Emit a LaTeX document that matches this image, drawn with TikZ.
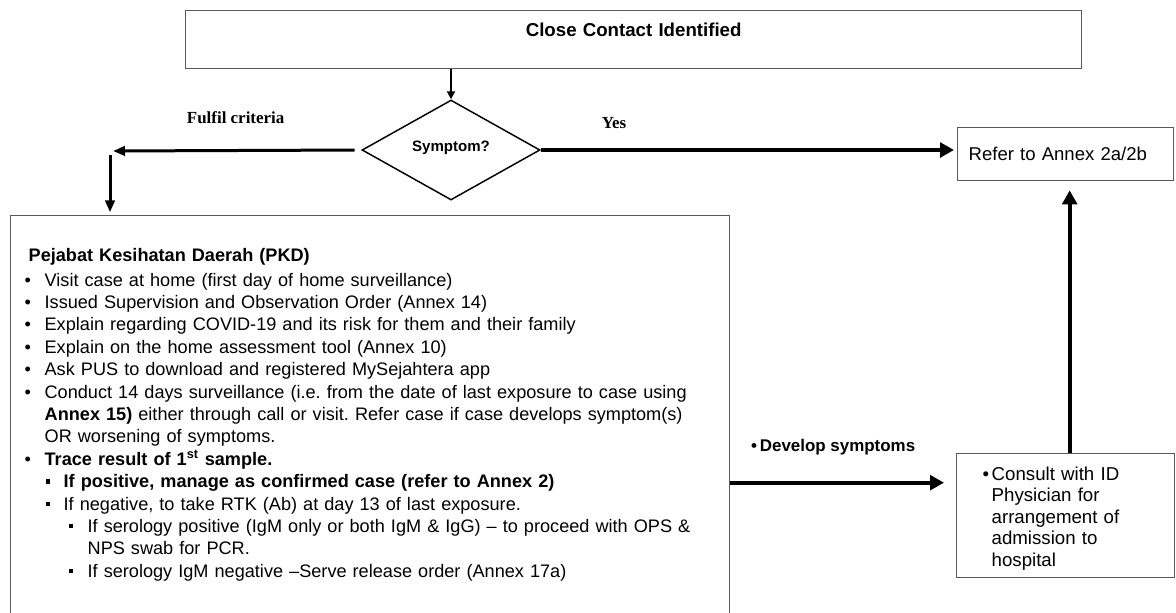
\documentclass[tikz,border=0pt]{standalone}
\usepackage{fontspec}
\setmainfont{Liberation Sans}
\newfontfamily\timesfont{Liberation Serif}
\usetikzlibrary{arrows.meta,shapes.geometric,positioning}

% list helpers for the PKD box
\newcommand{\sqbul}{\raisebox{3pt}{\rule{3.4pt}{3.4pt}}}
\newcommand{\pkdA}[1]{\par\hangindent=15pt\hangafter=1\noindent\makebox[15pt][l]{\textbullet}#1}
\newcommand{\pkdB}[1]{\par\hangindent=29.25pt\hangafter=1\noindent\hspace*{15.75pt}\makebox[13.5pt][l]{\sqbul}#1}
\newcommand{\pkdC}[1]{\par\hangindent=47.25pt\hangafter=1\noindent\hspace*{33pt}\makebox[14.25pt][l]{\sqbul}#1}

\begin{document}
\frenchspacing
\begin{tikzpicture}[
    x=0.75pt, y=-0.75pt,
    block/.style={
		rectangle,
		draw=black!65,
		line width=1pt,
		anchor=north west,
		inner sep=0pt,
		align=left
	},
	decision/.style={
		diamond,
		draw=black,
		line width=1.1pt,
		aspect=1.78,
		inner sep=0pt,
		minimum width=133.5pt,
		minimum height=75pt,
		font=\bfseries\fontsize{11.3}{13}\selectfont
	},
	tag/.style={
	  font=\timesfont\bfseries\fontsize{12.7}{14}\selectfont
    },
	thinarrow/.style={line width=1.5pt, -{Triangle[length=6pt,width=6pt]}},
	midarrow/.style={line width=2.25pt, -{Triangle[length=9pt,width=7pt]}},
	bigarrow/.style={line width=3pt, -{Triangle[length=10.5pt,width=11pt]}}
  ]

\useasboundingbox (0,0) rectangle (1176,612);

 \node [block, align=center, text width=672pt, text height=19pt, text depth=24.5pt,
        font=\bfseries\fontsize{14}{16}\selectfont] (contact) at (185,10) {Close Contact Identified};

 \node [decision] (symptom) at (451,150) {\raisebox{5pt}{Symptom?}};

 \node [block, text width=145.5pt, inner xsep=8.25pt, text height=24.5pt, text depth=15.25pt,
        font=\fontsize{13.9}{16}\selectfont] (refer) at (957,127) {Refer to Annex 2a/2b};

% // PKD box
 \node [block, text width=518.25pt, inner xsep=10.5pt, text height=34.5pt, text depth=285pt,
        font=\fontsize{13.6}{16.8}\selectfont] (pkd) at (10,215)
 {%
  \hspace*{3pt}\textbf{Pejabat Kesihatan Daerah (PKD)}\par\vspace{1.5pt}
  \pkdA{Visit case at home (first day of home surveillance)}
  \pkdA{Issued Supervision and Observation Order (Annex 14)}
  \pkdA{Explain regarding COVID-19 and its risk for them and their family}
  \pkdA{Explain on the home assessment tool (Annex 10)}
  \pkdA{Ask PUS to download and registered MySejahtera app}
  \pkdA{Conduct 14 days surveillance (i.e. from the date of last exposure to case using\newline
        \textbf{Annex 15)} either through call or visit. Refer case if case develops symptom(s)\newline
        OR worsening of symptoms.}
  \pkdA{\textbf{Trace result of 1\textsuperscript{st} sample.}}
  \pkdB{\textbf{If positive, manage as confirmed case (refer to Annex 2)}}
  \pkdB{If negative, to take RTK (Ab) at day 13 of last exposure.}
  \pkdC{If serology positive (IgM only or both IgM \& IgG) – to proceed with OPS \&\newline
        NPS swab for PCR.}
  \pkdC{If serology IgM negative –Serve release order (Annex 17a)}
 };

 \node [block, text width=124.5pt, inner xsep=19.5pt, text height=20pt, text depth=73pt,
        font=\fontsize{14}{16.1}\selectfont] (consult) at (956,453)
 {%
  \makebox[6.75pt][l]{\textbullet}Consult with ID\\
  \hspace*{6.75pt}Physician for\\
  \hspace*{6.75pt}arrangement of\\
  \hspace*{6.75pt}admission to\\
  \hspace*{6.75pt}hospital
 };

% connectors
 \coordinate (fork) at (110,151);
 \coordinate (devtip) at ([yshift=24.75pt]consult.west);

 \draw [thinarrow] (symptom.north |- contact.south) -- (symptom.north);
 \draw [midarrow, shorten <=5pt, shorten >=2.25pt] (symptom.west) -- (fork)
       node [tag, midway, yshift=24.75pt] {Fulfil criteria};
 \draw [midarrow, shorten <=3pt, shorten >=2pt] (fork) -- (fork |- pkd.north);
 \draw [bigarrow, shorten >=2.25pt] (symptom.east) -- (symptom.east -| refer.west)
       node [tag, pos=0.176, yshift=20.25pt] {Yes};
 \draw [bigarrow, shorten >=6.75pt] ([xshift=3pt]consult.north) -- ([xshift=3pt]refer.south);
 \draw [bigarrow, shorten >=9pt] (devtip -| pkd.east) -- (devtip)
       node [midway, xshift=-7.5pt, yshift=27pt, font=\bfseries\fontsize{12.7}{14}\selectfont]
       {\textbullet\,Develop symptoms};

\end{tikzpicture}
\end{document}
